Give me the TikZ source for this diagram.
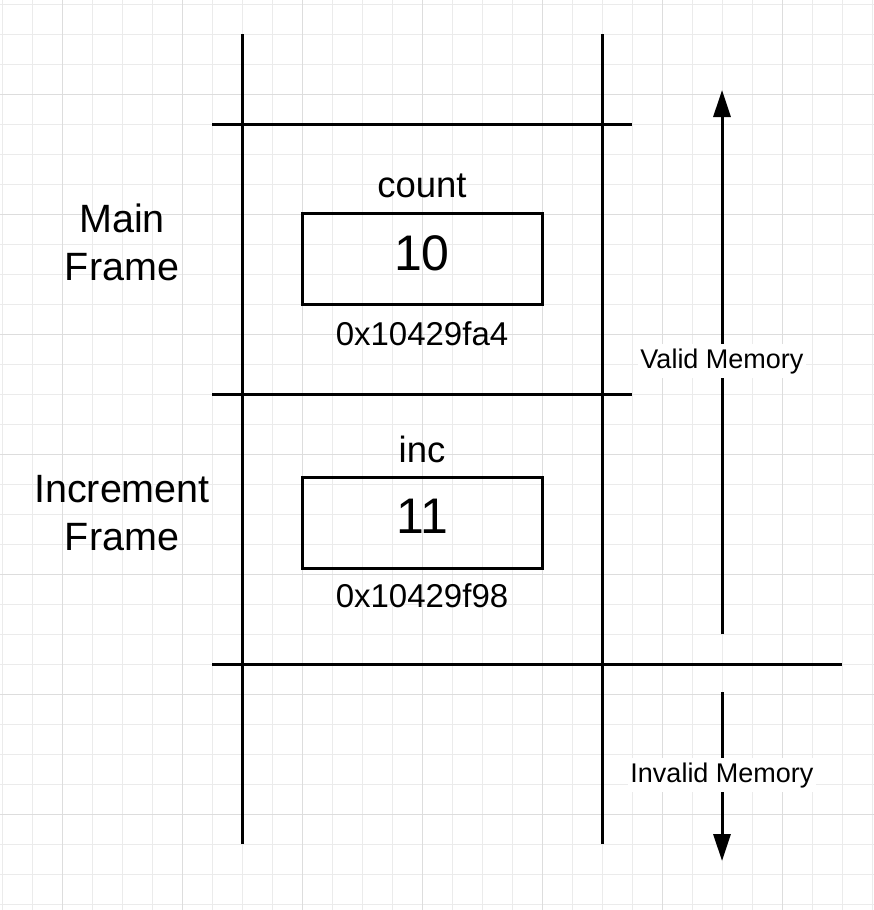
\documentclass[tikz,border=0pt]{standalone}
\usepackage{fontspec}
\setmainfont{Liberation Sans}
\usetikzlibrary{arrows.meta}
\definecolor{gridminor}{HTML}{EBEBEB}
\definecolor{gridmajor}{HTML}{DDDDDD}
\tikzset{
  heavy/.style={line width=3pt, line cap=butt},
  memarrow/.style={line width=3pt, -{Triangle[width=17pt,length=27pt]}},
  varbox/.style={draw, line width=3pt, minimum width=240pt, minimum height=91pt, inner sep=0pt},
  framelbl/.style={anchor=base, font=\fontsize{39.5pt}{46pt}\selectfont, inner sep=0pt},
  namelbl/.style={anchor=base, font=\fontsize{36.5pt}{43pt}\selectfont, inner sep=0pt},
  vallbl/.style={anchor=base, font=\fontsize{50pt}{58pt}\selectfont, inner sep=0pt},
  addrlbl/.style={anchor=base, font=\fontsize{33pt}{39pt}\selectfont, inner sep=0pt},
  memlbl/.style={anchor=base, fill=white, font=\fontsize{27pt}{32pt}\selectfont, inner xsep=2pt, inner ysep=4pt},
}
\begin{document}
\begin{tikzpicture}[x=1pt, y=-1pt]
\useasboundingbox (0,0) rectangle (874,910);
\fill[white] (0,0) rectangle (874,910);
% background grid
\foreach \gx in {2.7,32.7,...,875} {\draw[gridminor, line width=1pt] (\gx,0) -- (\gx,910);}
\foreach \gy in {4.3,34.3,...,911} {\draw[gridminor, line width=1pt] (0,\gy) -- (874,\gy);}
\foreach \gx in {62.7,182.7,...,875} {\draw[gridmajor, line width=1pt] (\gx,0) -- (\gx,910);}
\foreach \gy in {94.3,214.3,...,911} {\draw[gridmajor, line width=1pt] (0,\gy) -- (874,\gy);}

% stack lines
\coordinate (lt) at (242,34);  \coordinate (lb) at (242,844);
\coordinate (rt) at (602,34);  \coordinate (rb) at (602,844);
\coordinate (h1a) at (212,124); \coordinate (h1b) at (632,124);
\coordinate (h2a) at (212,394); \coordinate (h2b) at (632,394);
\coordinate (h3a) at (212,664); \coordinate (h3b) at (842,664);
\draw[heavy] (lt) -- (lb);
\draw[heavy] (rt) -- (rb);
\draw[heavy] (h1a) -- (h1b);
\draw[heavy] (h2a) -- (h2b);
\draw[heavy] (h3a) -- (h3b);

% frame labels
\node[framelbl] (mainA) at (122,232) {Main};
\node[framelbl] (mainB) at (122,280) {Frame};
\node[framelbl] (incA) at (122,502) {Increment};
\node[framelbl] (incB) at (122,550) {Frame};

% variables
\node[varbox] (box1) at (422,258.5) {};
\node[namelbl] (name1) at (422,197) {count};
\node[vallbl] (val1) at (422,270) {10};
\node[addrlbl] (addr1) at (422,345) {0x10429fa4};

\node[varbox] (box2) at (422,522.5) {};
\node[namelbl] (name2) at (422,462) {inc};
\node[vallbl] (val2) at (422,533) {11};
\node[addrlbl] (addr2) at (422,607) {0x10429f98};

% memory arrows
\coordinate (vbot) at (722,634); \coordinate (vtop) at (722,90);
\coordinate (itop) at (722,692); \coordinate (ibot) at (722,861);
\draw[memarrow] (vbot) -- (vtop);
\draw[memarrow] (itop) -- (ibot);
\node[memlbl] (valid) at (722,368) {Valid Memory};
\node[memlbl] (invalid) at (722,782) {Invalid Memory};
\end{tikzpicture}
\end{document}
